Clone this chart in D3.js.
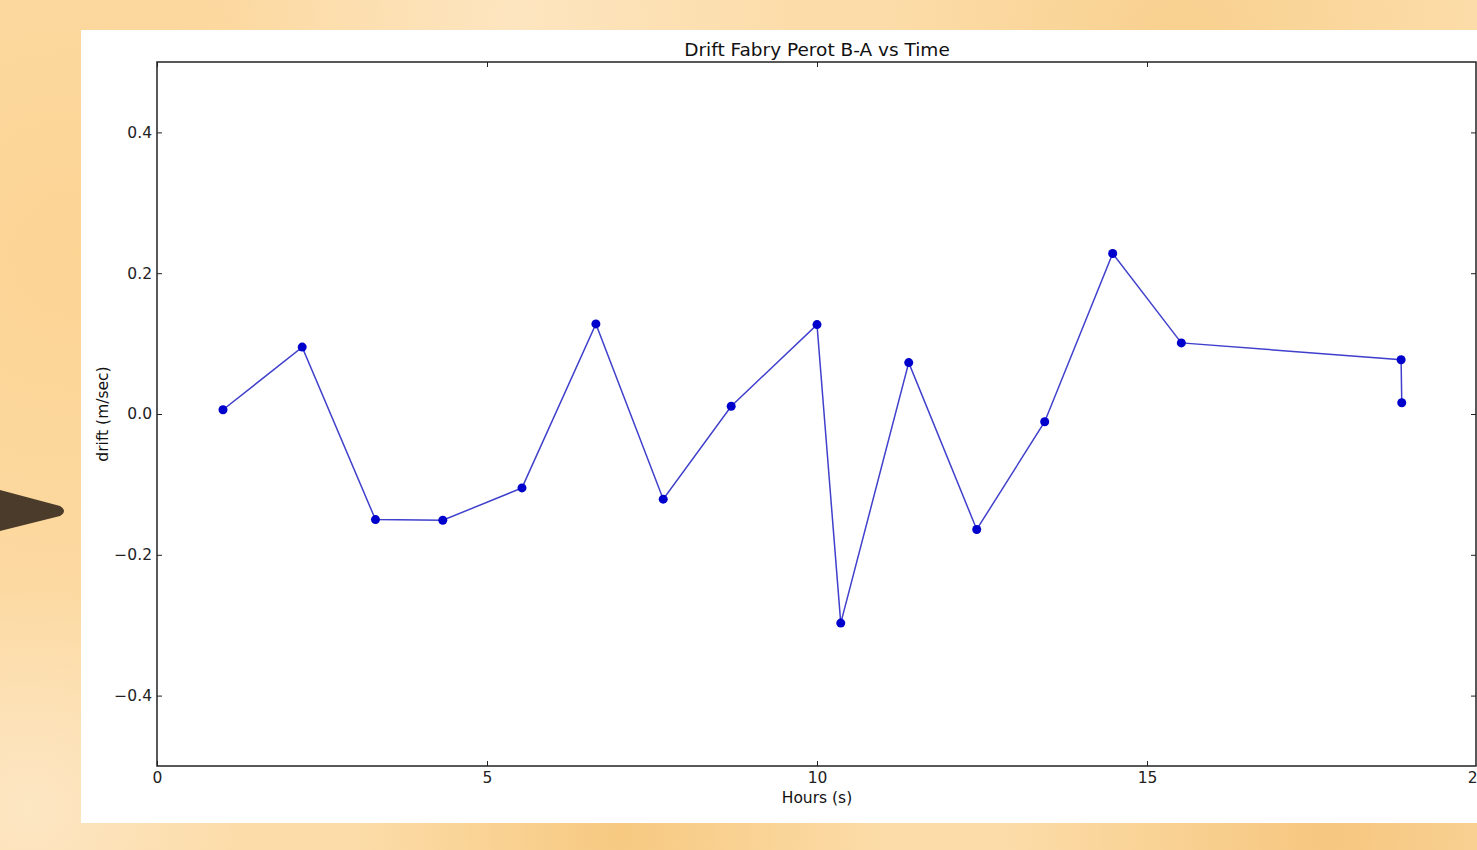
<!DOCTYPE html>
<html>
<head>
<meta charset="utf-8">
<script src="https://cdn.jsdelivr.net/npm/d3@7"></script>
<style>
  html, body { margin: 0; padding: 0; overflow: hidden; }
  svg { display: block; font-family: "DejaVu Sans", sans-serif; }
</style>
</head>
<body>
<svg id="vis" width="1477" height="850"></svg>
<script>
// values
const hours = [1.0, 2.2, 3.31, 4.33, 5.53, 6.65, 7.67, 8.7, 10.0, 10.36, 11.39, 12.42, 13.45, 14.48, 15.52, 18.85, 18.86];
const drift = [0.006, 0.095, -0.15, -0.151, -0.105, 0.128, -0.121, 0.011, 0.127, -0.297, 0.073, -0.164, -0.011, 0.228, 0.101, 0.077, 0.016];
const xTicks = [0, 5, 10, 15, 20];
const yTicks = [-0.4, -0.2, 0.0, 0.2, 0.4];
const titleText = "Drift Fabry Perot B-A vs Time";
const xLabel = "Hours (s)";
const yLabel = "drift (m/sec)";

const W = 1477, H = 850;
const svg = d3.select("#vis");

// warm textured backdrop
const defs = svg.append("defs");
const bgSpots = [
  {cx: 0.05, cy: 0.3, r: 0.35, c: "#fcd392"},
  {cx: 0.35, cy: 0.02, r: 0.2, c: "#fde6c2"},
  {cx: 0.8, cy: 0.05, r: 0.2, c: "#f8cf8c"},
  {cx: 0.42, cy: 0.98, r: 0.18, c: "#f6c77c"},
  {cx: 0.9, cy: 0.98, r: 0.22, c: "#f5c47a"},
  {cx: 0.02, cy: 0.95, r: 0.15, c: "#fde7c6"}
];
svg.append("rect").attr("width", W).attr("height", H).attr("fill", "#fcdca8");
bgSpots.forEach((s, i) => {
  const g = defs.append("radialGradient").attr("id", "spot" + i);
  g.append("stop").attr("offset", "0%").attr("stop-color", s.c).attr("stop-opacity", 0.9);
  g.append("stop").attr("offset", "100%").attr("stop-color", s.c).attr("stop-opacity", 0);
  svg.append("circle")
    .attr("cx", s.cx * W).attr("cy", s.cy * H).attr("r", s.r * W)
    .attr("fill", `url(#spot${i})`);
});

// arrow on the left edge
svg.append("path")
  .attr("d", "M0,490 L60,506 Q68,511 60,516 L0,531 Z")
  .attr("fill", "#4a3b2a");

// white figure panel
svg.append("rect")
  .attr("x", 81).attr("y", 30).attr("width", W - 81).attr("height", 793)
  .attr("fill", "#ffffff");

const margin = {top: 62, right: 1, bottom: 84, left: 157};
const x = d3.scaleLinear().domain([0, 20]).range([margin.left, margin.left + 1320]);
const y = d3.scaleLinear().domain([-0.5, 0.5]).range([H - margin.bottom, margin.top]);

const fmtY = d => d3.format(".1f")(d).replace("-", "\u2212");

// axes: matplotlib-style ticks pointing inward
const axisStyle = g => {
  g.select(".domain").remove();
  g.selectAll(".tick line").attr("stroke", "#222");
  g.selectAll(".tick text").attr("fill", "#222").attr("font-size", 15.5)
    .attr("font-family", "DejaVu Sans, sans-serif");
};

svg.append("g")
  .attr("transform", `translate(0,${y(-0.5)})`)
  .call(d3.axisBottom(x).tickValues(xTicks).tickSize(-5).tickPadding(6).tickFormat(d3.format("d")))
  .call(axisStyle);
svg.append("g")
  .attr("transform", `translate(0,${y(0.5)})`)
  .call(d3.axisTop(x).tickValues(xTicks).tickSize(-5).tickFormat(""))
  .call(axisStyle);
svg.append("g")
  .attr("transform", `translate(${x(0)},0)`)
  .call(d3.axisLeft(y).tickValues(yTicks).tickSize(-5).tickPadding(5).tickFormat(fmtY))
  .call(axisStyle);
svg.append("g")
  .attr("transform", `translate(${x(20) - 1},0)`)
  .call(d3.axisRight(y).tickValues(yTicks).tickSize(-5).tickFormat(""))
  .call(axisStyle);

// frame
svg.append("rect")
  .attr("x", x(0)).attr("y", y(0.5))
  .attr("width", x(20) - x(0) - 1).attr("height", y(-0.5) - y(0.5))
  .attr("fill", "none").attr("stroke", "#222").attr("stroke-width", 1.5);

// data
const pts = hours.map((h, i) => ({h, v: drift[i]}));
svg.append("path")
  .datum(pts)
  .attr("fill", "none")
  .attr("stroke", "#4040cc")
  .attr("stroke-width", 1.5)
  .attr("d", d3.line().x(d => x(d.h)).y(d => y(d.v)));
svg.append("g").selectAll("circle")
  .data(pts).join("circle")
  .attr("cx", d => x(d.h)).attr("cy", d => y(d.v)).attr("r", 4.5)
  .attr("fill", "#0000cc");

// labels
svg.append("text")
  .attr("x", (x(0) + x(20)) / 2).attr("y", 56)
  .attr("text-anchor", "middle").attr("font-size", 18.5).attr("fill", "#111")
  .text(titleText);
svg.append("text")
  .attr("x", (x(0) + x(20)) / 2).attr("y", 803)
  .attr("text-anchor", "middle").attr("font-size", 15.5).attr("fill", "#111")
  .text(xLabel);
svg.append("text")
  .attr("transform", `translate(108,${y(0)}) rotate(-90)`)
  .attr("text-anchor", "middle").attr("font-size", 15.5).attr("fill", "#111")
  .text(yLabel);
</script>
</body>
</html>
